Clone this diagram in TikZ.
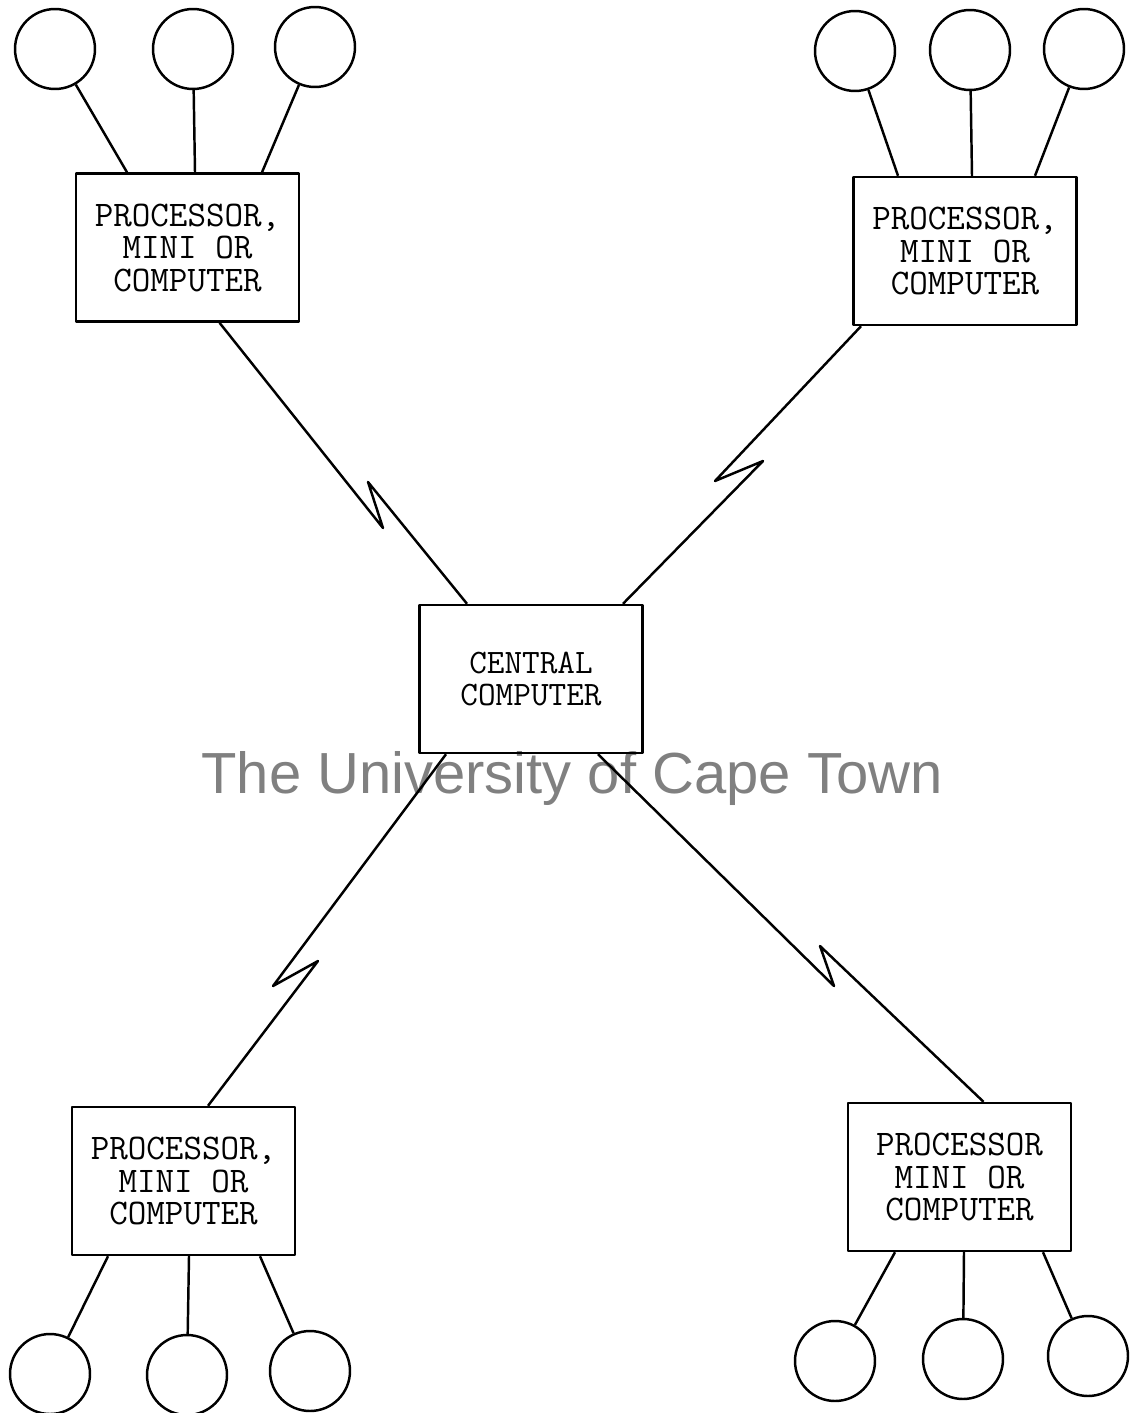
\documentclass[tikz,border=0pt]{standalone}
\usepackage{fontspec}
\usepackage{tikz}
\newfontfamily\wmfont{Liberation Sans}
\usetikzlibrary{
    calc,
    positioning
}

\begin{document}
\begin{tikzpicture}[x=0.02cm, y=-0.02cm, line width=1.4pt, line join=round,
    procbox/.style={draw, rectangle, minimum width=4.46cm, minimum height=2.96cm,
        inner sep=0pt, align=center, font=\ttfamily\fontsize{20.5}{18.5}\selectfont},
    station/.style={draw, circle, minimum size=1.6cm, inner sep=0pt}]
\useasboundingbox (0,0) rectangle (1136,1413);
\node[text=gray, font=\wmfont\fontsize{33}{33}\selectfont, anchor=base] (wm) at (572,793) {The University of Cape Town};
% processors and the central computer
\node[procbox] (tl) at (187.5,247.5) {PROCESSOR,\\MINI OR\\COMPUTER};
\node[procbox] (tr) at (965,251) {PROCESSOR,\\MINI OR\\COMPUTER};
\node[procbox, font=\ttfamily\fontsize{19.5}{18.5}\selectfont] (cc) at (531,679) {CENTRAL\\COMPUTER};
\node[procbox] (bl) at (183.5,1181) {PROCESSOR,\\MINI OR\\COMPUTER};
\node[procbox] (br) at (959.5,1177) {PROCESSOR\\MINI OR\\COMPUTER};
% terminals
\foreach \n/\x/\y in {tl1/55/49, tl2/193/49, tl3/315/47,
                      tr1/855/51, tr2/970/50, tr3/1084/49,
                      bl1/50/1374, bl2/187/1375, bl3/310/1371,
                      br1/835/1361, br2/963/1359, br3/1088/1356}
    \node[station] (\n) at (\x,\y) {};
\foreach \n/\b/\dx in {tl1/tl.north/-60.5, tl2/tl.north/7.5, tl3/tl.north/74.5,
                       tr1/tr.north/-67, tr2/tr.north/7, tr3/tr.north/70,
                       bl1/bl.south/-75.5, bl2/bl.south/5.5, bl3/bl.south/76.5,
                       br1/br.south/-64.5, br2/br.south/4.5, br3/br.south/83.5}
    \draw (\n) -- ($(\b)+(\dx,0)$);
% lines to the central computer
\coordinate (z1a) at (383,528);
\coordinate (z1b) at (368,482);
\coordinate (z2a) at (715,481);
\coordinate (z2b) at (763,461);
\coordinate (z3a) at (273,986);
\coordinate (z3b) at (318,961);
\coordinate (z4a) at (834,986);
\coordinate (z4b) at (820,946);
\draw ($(tl.south)+(32,0)$) -- (z1a) -- (z1b) -- ($(cc.north)+(-64,0)$);
\draw ($(tr.south)+(-104,0)$) -- (z2a) -- (z2b) -- ($(cc.north)+(92,0)$);
\draw ($(cc.south)+(-85,0)$) -- (z3a) -- (z3b) -- ($(bl.north)+(24.5,0)$);
\draw ($(cc.south)+(67,0)$) -- (z4a) -- (z4b) -- ($(br.north)+(24,0)$);
\end{tikzpicture}
\end{document}
